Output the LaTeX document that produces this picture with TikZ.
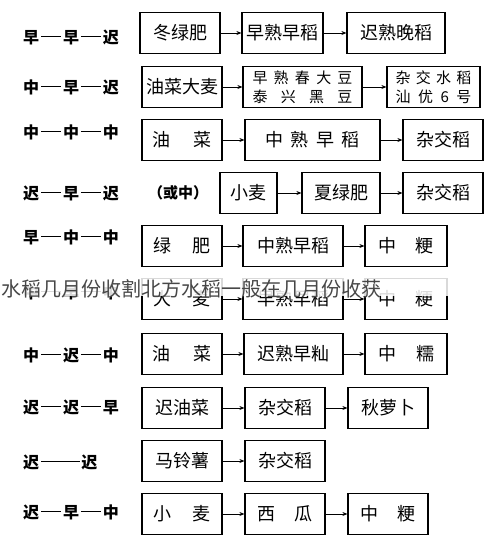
\documentclass[tikz,border=0pt]{standalone}
\usepackage{fontspec}
\setmainfont{Noto Sans CJK SC}
\usetikzlibrary{arrows.meta}
% dash between the seasons of a row label
\newcommand\dd[1][1.25em]{\hspace{0.12em}\rule[0.36em]{#1}{1.2pt}\hspace{0.12em}}
\begin{document}
\begin{tikzpicture}[x=1pt,y=-1pt,
  crop/.style={draw,line width=1.2pt,inner sep=0pt,minimum height=41pt,font=\fontsize{18}{20}\selectfont},
  twoline/.style={crop,align=center,font=\fontsize{15}{19}\selectfont},
  rowlab/.style={anchor=west,inner sep=0pt,font=\bfseries\fontsize{16}{18}\selectfont},
  nxt/.style={-{Stealth[length=5pt,width=4pt]},line width=0.8pt}]
\useasboundingbox (0,0) rectangle (500,555);
% row labels
\foreach \n/\y/\lbl in %
{1/37/早\dd 早\dd 迟,2/87/中\dd 早\dd 迟,3/132/中\dd 中\dd 中,4/193/迟\dd 早\dd 迟,%
 5/237/早\dd 中\dd 中,6/292/中\dd 早\dd 中,7/355/中\dd 迟\dd 中,8/407/迟\dd 迟\dd 早,%
 9/462/迟\dd[2.4em]迟,10/512/迟\dd 早\dd 中} {
   \node[rowlab] (lab\n) at (23,\y) {\lbl};
}
\node[font=\bfseries\fontsize{15}{18}\selectfont] (orm) at (178,193) {（或中）};
% row 1
\node[crop,minimum width=80pt] (r1a) at (180,33) {冬绿肥};
\node[crop,minimum width=81pt] (r1b) at (282.5,33) {早熟早稻};
\node[crop,minimum width=98pt] (r1c) at (396,33) {迟熟晚稻};
% row 2
\node[crop,minimum width=80pt] (r2a) at (182,87) {油菜大麦};
\node[twoline,minimum width=119pt] (r2b) at (302.5,87)
   {\makebox[100pt]{早\hfill 熟\hfill 春\hfill 大\hfill 豆}\\\makebox[100pt]{泰\hfill 兴\hfill 黑\hfill 豆}};
\node[twoline,minimum width=93pt] (r2c) at (433.5,87)
   {\makebox[76pt]{杂\hfill 交\hfill 水\hfill 稻}\\\makebox[76pt]{汕\hfill 优\hfill 6\hfill 号}};
% row 3
\node[crop,minimum width=80pt] (r3a) at (182,140) {\makebox[60pt]{油\hfill 菜}};
\node[crop,minimum width=135pt] (r3b) at (312.5,140) {\makebox[95pt]{中\hfill 熟\hfill 早\hfill 稻}};
\node[crop,minimum width=80pt] (r3c) at (443,140) {杂交稻};
% row 4
\node[crop,minimum width=57pt] (r4a) at (248.5,193) {小麦};
\node[crop,minimum width=78pt] (r4b) at (341,193) {夏绿肥};
\node[crop,minimum width=80pt] (r4c) at (443,193) {杂交稻};
% row 5
\node[crop,minimum width=80pt] (r5a) at (182,246) {\makebox[57pt]{绿\hfill 肥}};
\node[crop,minimum width=100pt] (r5b) at (293,246) {中熟早稻};
\node[crop,minimum width=82pt] (r5c) at (406,246) {\makebox[55pt]{中\hfill 粳}};
% row 6
\node[crop,minimum width=80pt] (r6a) at (182,299) {\makebox[57pt]{大\hfill 麦}};
\node[crop,minimum width=100pt] (r6b) at (293,299) {早熟早稻};
\node[crop,minimum width=82pt] (r6c) at (406,299) {\makebox[55pt]{中\hfill 粳}};
% row 7
\node[crop,minimum width=80pt] (r7a) at (182,354) {\makebox[60pt]{油\hfill 菜}};
\node[crop,minimum width=99pt] (r7b) at (293.5,354) {迟熟早籼};
\node[crop,minimum width=82pt] (r7c) at (406,354) {\makebox[56pt]{中\hfill 糯}};
% row 8
\node[crop,minimum width=80pt] (r8a) at (182,408) {迟油菜};
\node[crop,minimum width=80pt] (r8b) at (285,408) {杂交稻};
\node[crop,minimum width=80pt] (r8c) at (388,408) {秋萝卜};
% row 9
\node[crop,minimum width=80pt] (r9a) at (182,461) {马铃薯};
\node[crop,minimum width=80pt] (r9b) at (285,461) {杂交稻};
% row 10
\node[crop,minimum width=80pt] (r10a) at (182,514) {\makebox[58pt]{小\hfill 麦}};
\node[crop,minimum width=80pt] (r10b) at (285,514) {\makebox[55pt]{西\hfill 瓜}};
\node[crop,minimum width=80pt] (r10c) at (388,514) {\makebox[55pt]{中\hfill 粳}};
% arrows
\foreach \a/\b in %
{r1a/r1b,r1b/r1c,r2a/r2b,r2b/r2c,r3a/r3b,r3b/r3c,r4a/r4b,r4b/r4c,r5a/r5b,r5b/r5c,%
 r6a/r6b,r6b/r6c,r7a/r7b,r7b/r7c,r8a/r8b,r8b/r8c,r9a/r9b,r10a/r10b,r10b/r10c} {
   \draw[nxt] (\a) -- (\b);
}
% overlaid caption
\fill[white,opacity=0.85] (0,268) rectangle (500,296);
\node[anchor=west,inner sep=0pt,text=black!72,font=\fontsize{20}{22}\selectfont] (cap) at (1,289)
   {水稻几月份收割北方水稻一般在几月份收获};
\end{tikzpicture}
\end{document}
